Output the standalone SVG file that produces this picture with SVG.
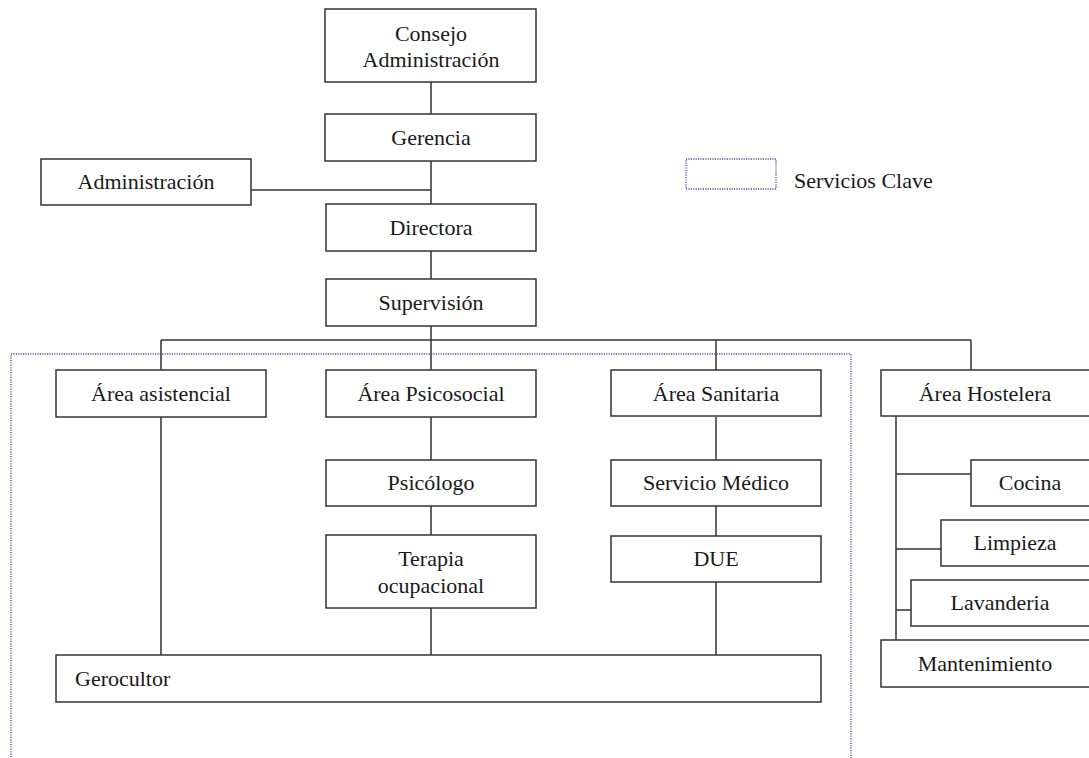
<svg xmlns="http://www.w3.org/2000/svg" width="1089" height="758" viewBox="0 0 1089 758">
<style>
.box{fill:#fff;stroke:#333;stroke-width:1.5}
.ln{fill:none;stroke:#333;stroke-width:1.5}
.dot{fill:none;stroke:#5050a0;stroke-width:1.3;stroke-dasharray:1.2 1.2}
text{font-family:"Liberation Serif","Times New Roman",serif;font-size:22px;fill:#1a1a1a}
.c{text-anchor:middle}
</style>
<rect width="1089" height="758" fill="#fff"/>
<g id="connectors">
<path class="ln" d="M431 82V114M431 161V204M251 190H431M431 251V279M431 326V340M161 340H971M161 340V370M431 340V370M716 340V370M971 340V370"/>
<path class="ln" d="M161 417V655M431 417V460M431 506V535M431 608V655M716 417V460M716 506V536M716 582V655"/>
<path class="ln" d="M896 416V640M896 474H971M896 549H941M896 610H911"/>
</g>
<g id="servicios-clave-region"><rect class="dot" x="11" y="354" width="840" height="420"/></g>
<g id="legend"><rect class="dot" x="686" y="159" width="90" height="30"/><text x="794" y="188">Servicios Clave</text></g>
<g id="consejo"><rect class="box" x="325" y="9" width="211" height="73"/><text class="c" x="431" y="41">Consejo</text><text class="c" x="431" y="67">Administración</text></g>
<g id="gerencia"><rect class="box" x="325" y="114" width="211" height="47"/><text class="c" x="431" y="145">Gerencia</text></g>
<g id="administracion"><rect class="box" x="41" y="159" width="210" height="46"/><text class="c" x="146" y="189">Administración</text></g>
<g id="directora"><rect class="box" x="326" y="204" width="210" height="47"/><text class="c" x="431" y="235">Directora</text></g>
<g id="supervision"><rect class="box" x="326" y="279" width="210" height="47"/><text class="c" x="431" y="310">Supervisión</text></g>
<g id="area-asistencial"><rect class="box" x="56" y="370" width="210" height="47"/><text class="c" x="161" y="401">Área asistencial</text></g>
<g id="area-psicosocial"><rect class="box" x="326" y="370" width="210" height="47"/><text class="c" x="431" y="401">Área Psicosocial</text></g>
<g id="area-sanitaria"><rect class="box" x="611" y="370" width="210" height="46"/><text class="c" x="716" y="401">Área Sanitaria</text></g>
<g id="area-hostelera"><rect class="box" x="881" y="370" width="215" height="46"/><text class="c" x="985" y="401">Área Hostelera</text></g>
<g id="psicologo"><rect class="box" x="326" y="460" width="210" height="46"/><text class="c" x="431" y="490">Psicólogo</text></g>
<g id="terapia"><rect class="box" x="326" y="535" width="210" height="73"/><text class="c" x="431" y="566">Terapia</text><text class="c" x="431" y="593">ocupacional</text></g>
<g id="servicio-medico"><rect class="box" x="611" y="460" width="210" height="46"/><text class="c" x="716" y="490">Servicio Médico</text></g>
<g id="due"><rect class="box" x="611" y="536" width="210" height="46"/><text class="c" x="716" y="566">DUE</text></g>
<g id="gerocultor"><rect class="box" x="56" y="655" width="765" height="47"/><text x="75" y="686">Gerocultor</text></g>
<g id="cocina"><rect class="box" x="971" y="460" width="125" height="46"/><text class="c" x="1030" y="490">Cocina</text></g>
<g id="limpieza"><rect class="box" x="941" y="520" width="155" height="46"/><text class="c" x="1015" y="550">Limpieza</text></g>
<g id="lavanderia"><rect class="box" x="911" y="580" width="185" height="46"/><text class="c" x="1000" y="610">Lavanderia</text></g>
<g id="mantenimiento"><rect class="box" x="881" y="640" width="215" height="47"/><text class="c" x="985" y="671">Mantenimiento</text></g>
</svg>
